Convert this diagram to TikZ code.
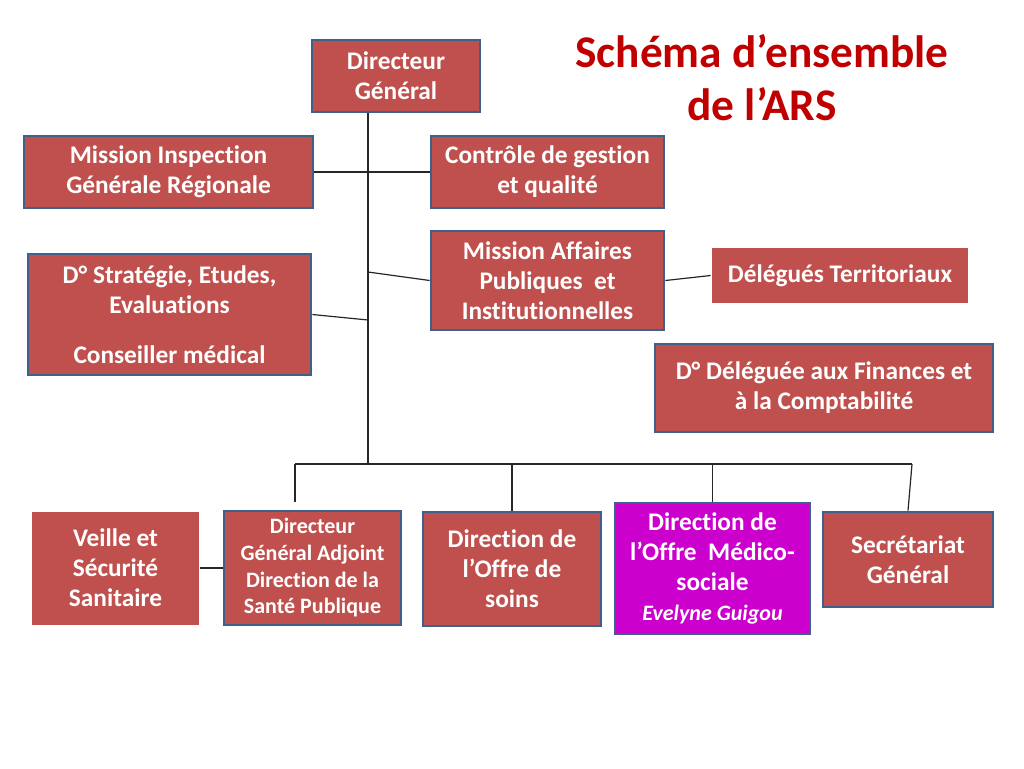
\documentclass[tikz,border=0pt]{standalone}
\usepackage{fontspec}
\setmainfont[Ligatures=NoCommon]{Carlito}
\definecolor{boxred}{HTML}{C0504D}
\definecolor{boxline}{HTML}{3F5F8C}
\definecolor{boxmag}{HTML}{CC00CC}
\definecolor{titlered}{HTML}{C00000}

\begin{document}
\begin{tikzpicture}[x=0.75pt,y=-0.75pt,
  box/.style={draw=boxline, line width=2pt, fill=boxred, text=white, align=center,
    inner sep=0pt, font=\bfseries\fontsize{19}{22.5}\selectfont},
  plain/.style={box, draw=none},
  small/.style={font=\bfseries\fontsize{16.5}{20}\selectfont},
  wh/.style 2 args={minimum width=#1*0.75pt, minimum height=#2*0.75pt},
  link/.style={draw=black!85, line width=0.9pt}]
  \useasboundingbox (0,0) rectangle (1024,768);

  % title
  \node[text=titlered, align=center, font=\bfseries\fontsize{34}{40}\selectfont] (title) at (762,78) {Schéma d’ensemble\\de l’ARS};

  % top
  \node[box, wh={168}{72}] (dg) at (396,76) {Directeur\\Général};
  \node[box, wh={289}{72}] (mig) at (168.5,172) {Mission Inspection\\Générale Régionale};
  \node[box, wh={233}{72}] (ctrl) at (547.5,172) {Contrôle de gestion\\et qualité};
  \node[box, wh={283}{121}] (dse) at (169.5,314.5) {D° Stratégie, Etudes,\\Evaluations\\[15pt]Conseiller médical};
  \node[box, wh={233}{99}] (maf) at (547.5,280.5) {Mission Affaires\\Publiques\ \ et\\Institutionnelles};
  \node[plain, wh={256}{55}] (delt) at (840,275.5) {Délégués Territoriaux};
  \node[box, wh={338}{88}] (dfin) at (824,388) {D° Déléguée aux Finances et\\à la Comptabilité};

  % bottom
  \node[plain, wh={167}{113}] (vss) at (115.5,568) {Veille et\\Sécurité\\Sanitaire};
  \node[box, small, wh={177}{114}] (dga) at (312.5,568) {Directeur\\Général Adjoint\\Direction de la\\Santé Publique};
  \node[box, wh={178}{114}] (dos) at (512,569) {Direction de\\l’Offre de\\soins};
  \node[box, fill=boxmag, wh={195}{131}] (doms) at (712.5,568.5) {Direction de\\l’Offre\ \ Médico-\\sociale\\{\bfseries\itshape\fontsize{16.5}{21}\selectfont Evelyne Guigou}};
  \node[box, wh={170}{95}] (sg) at (908,559.5) {Secrétariat\\Général};

  % connectors
  \coordinate (trunk) at (368,464);
  \coordinate (busl) at (295,464);
  \coordinate (busr) at (912,464);
  \coordinate (j1) at (368,272);
  \coordinate (j2) at (368,320);
  \draw[link] (trunk |- dg.south) -- (trunk);
  \draw[link] (mig.east) -- (ctrl.west);
  \draw[link] (j1) -- (maf.west);
  \draw[link] (dse.east) -- (j2);
  \draw[link] (maf.east) -- (delt.west);
  \draw[link] (busl) -- (busr);
  \draw[link] (busl) -- ++(0,38);
  \draw[link] (dos.north |- busl) -- (dos.north);
  \draw[link] (doms.north |- busl) -- (doms.north);
  \draw[link] (busr) -- (sg.north);
  \draw[link] (vss.east) -- (dga.west);
\end{tikzpicture}
\end{document}
